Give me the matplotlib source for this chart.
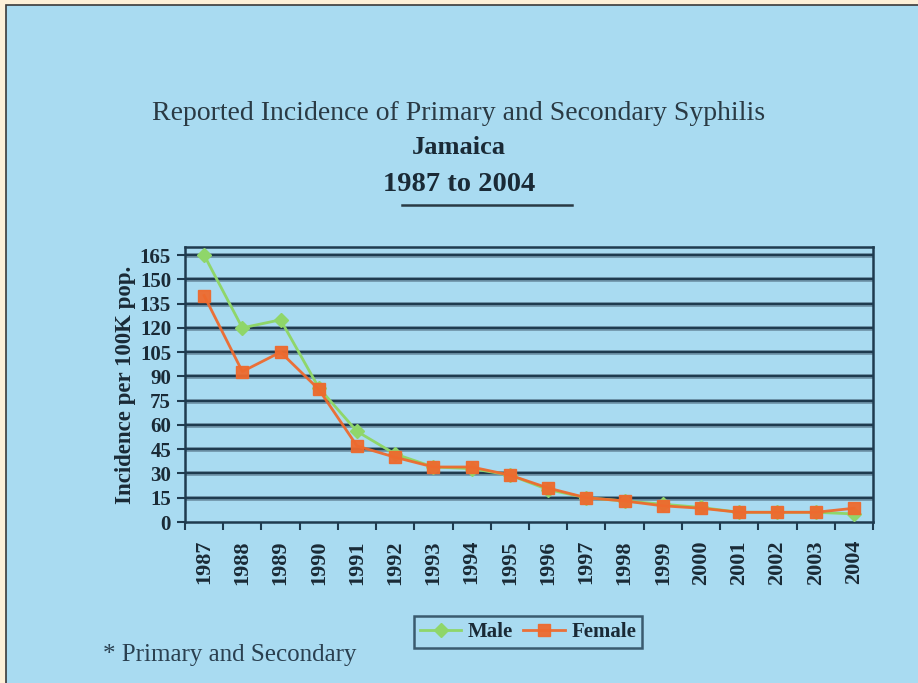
import matplotlib
matplotlib.use("Agg")
import matplotlib.pyplot as plt
from matplotlib.patches import Rectangle
from matplotlib.lines import Line2D
import numpy as np

years = [str(y) for y in range(1987, 2005)]
male = [165, 120, 125, 83, 56, 42, 34, 33, 29, 20, 15, 13, 11, 9, 6, 6, 6, 5]
female = [140, 93, 105, 82, 47, 40, 34, 34, 29, 21, 15, 13, 10, 8.5, 6, 6, 6, 8.5]
yticks = [0, 15, 30, 45, 60, 75, 90, 105, 120, 135, 150, 165]

BLUE = "#a9dbf1"
CREAM = "#fdf0d8"
DARK = "#1f3b4f"
GREEN = "#8fd66a"
ORANGE = "#ee6a2e"
SERIF = ["Liberation Serif", "DejaVu Serif"]

fig = plt.figure(figsize=(9.18, 6.83), dpi=100)
fig.patch.set_facecolor(CREAM)
fig.patches.append(Rectangle((6/918, -0.01), 1, 1.01 - 5/683, transform=fig.transFigure,
                             facecolor=BLUE, edgecolor="#3a3a3a", linewidth=1.2, zorder=-10))

ax = fig.add_axes([185/918, 1 - 522/683, (873 - 185)/918, (522 - 247)/683])
ax.set_facecolor(BLUE)
x = np.arange(len(years))
ax.set_xlim(-0.5, len(years) - 0.5)
ax.set_ylim(0, 170)

for yv in yticks[1:]:
    ax.axhline(yv, color="#6f93a8", linewidth=3.4, zorder=1)
    ax.axhline(yv, color=DARK, linewidth=1.6, zorder=1.1)

ax.plot(x, male, color=GREEN, marker="D", markersize=7, linewidth=2.0, zorder=3, label="Male")
ax.plot(x, female, color=ORANGE, marker="s", markersize=8, linewidth=2.0, zorder=4, label="Female",
        alpha=0.95)

ax.set_yticks(yticks)
ax.set_yticklabels([str(v) for v in yticks], fontfamily=SERIF, fontweight="bold", fontsize=15,
                   color="#1a2a36")
ax.set_xticks(x)
ax.set_xticklabels(years, rotation=90, fontfamily=SERIF, fontweight="bold", fontsize=16,
                   color="#1a2a36")
ax.set_xticks(np.arange(-0.5, len(years), 1), minor=True)
ax.tick_params(axis="x", which="major", length=0, pad=13)
ax.tick_params(axis="x", which="minor", length=6, width=1.5, color=DARK, direction="out")
ax.tick_params(axis="y", length=6, width=1.5, color=DARK, pad=4)
for s in ax.spines.values():
    s.set_color(DARK)
    s.set_linewidth(1.8)

ax.set_ylabel("Incidence per 100K pop.", fontfamily=SERIF, fontweight="bold", fontsize=16.5,
              color="#1a2a36", labelpad=3)

fig.text(0.5, 1 - 113/683, "Reported Incidence of Primary and Secondary Syphilis",
         ha="center", va="center", fontfamily=SERIF, fontsize=20, color="#2a3a44")
fig.text(0.5, 1 - 148/683, "Jamaica", ha="center", va="center", fontfamily=SERIF,
         fontweight="bold", fontsize=19, color="#1a2a36")
fig.text(0.5, 1 - 185/683, "1987 to 2004", ha="center", va="center", fontfamily=SERIF,
         fontweight="bold", fontsize=20.5, color="#1a2a36")
fig.add_artist(Line2D([402/918, 572/918], [1 - 205/683, 1 - 205/683], color="#2a3a44",
                      linewidth=1.8, transform=fig.transFigure))
fig.text(103/918, 1 - 655/683, "* Primary and Secondary", ha="left", va="center",
         fontfamily=SERIF, fontsize=18, color="#2a4050")

leg = fig.legend(loc="center", bbox_to_anchor=(528/918, 1 - 632/683), ncol=2,
                 prop={"family": SERIF, "weight": "bold", "size": 15},
                 frameon=True, fancybox=False, edgecolor=DARK, facecolor=BLUE,
                 handlelength=2.0, handletextpad=0.3, columnspacing=0.5, borderpad=0.3)
leg.get_frame().set_linewidth(1.8)
for t in leg.get_texts():
    t.set_color("#1a2a36")

fig.savefig("out.png", dpi=100, facecolor=fig.get_facecolor())
